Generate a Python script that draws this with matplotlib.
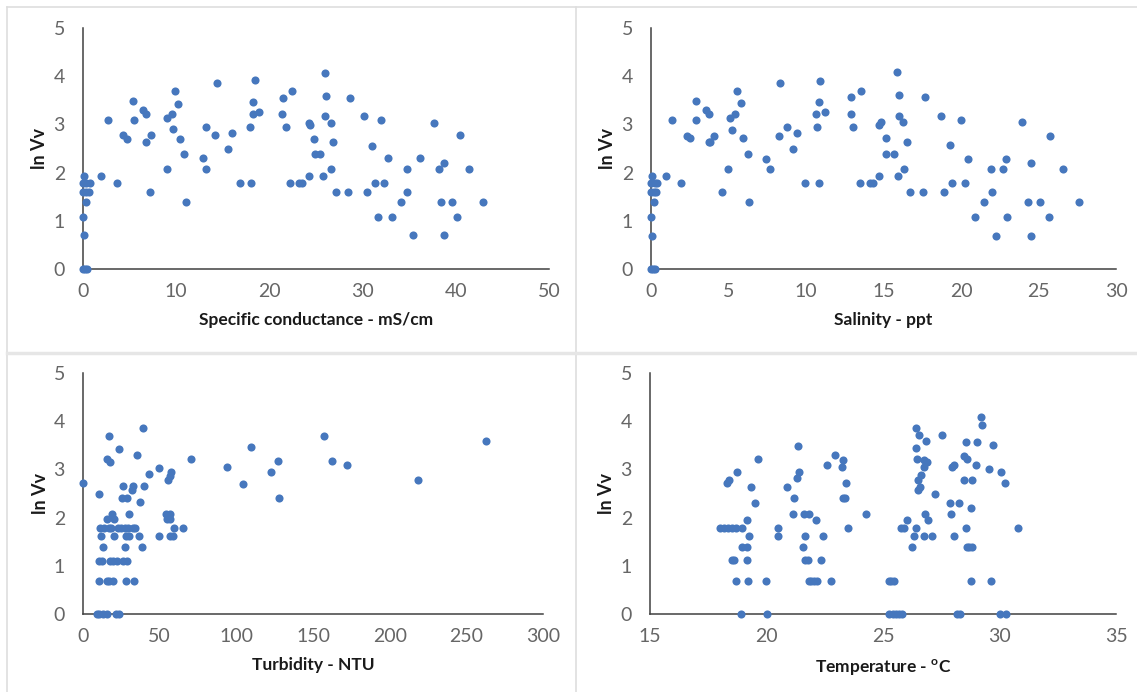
import matplotlib.pyplot as plt
from matplotlib.lines import Line2D

plt.rcParams['font.family'] = ['Lato', 'DejaVu Sans']
plt.rcParams['mathtext.fontset'] = 'custom'
plt.rcParams['mathtext.rm'] = 'Lato'
plt.rcParams['mathtext.bf'] = 'Lato:bold'

# ln of vibrio counts against four water-quality readings
cond = [0, 0.2, 0.45, 0.1, 0.05, 0, 0.3, 0.6, 0.35, 0.15, 0, 0.3, 0.7,
        1.95, 2.73, 3.67, 4.26, 4.77, 5.39, 5.51, 6.41, 6.80, 6.72, 7.23, 7.34,
        8.98, 9.06, 9.57, 9.69, 9.88, 10.2, 10.4, 10.8, 11.0, 12.85, 13.16, 13.24,
        14.14, 14.38, 15.6, 15.98, 16.8, 17.97, 18.05, 18.24, 18.2, 18.44, 18.9,
        21.3, 21.5, 21.76, 22.2, 22.4, 23.2, 23.5, 24.2, 24.3, 24.4, 24.77, 24.84,
        25.47, 25.78, 26.0, 26.1, 26.0, 26.6, 26.8, 26.6, 27.1, 28.4, 28.7, 30.2,
        30.5, 31.0, 31.3, 31.6, 32.0, 32.3, 32.7, 33.2, 34.1, 34.8, 34.8, 35.4,
        36.2, 37.7, 38.2, 38.4, 38.7, 38.7, 39.6, 40.1, 40.5, 41.4, 42.97]
cond_lnvv = [0, 0, 0, 0.71, 1.08, 1.6, 1.6, 1.6, 1.38, 1.93, 1.79, 1.79, 1.79,
             1.93, 3.09, 1.79, 2.78, 2.70, 3.49, 3.09, 3.30, 3.21, 2.63, 1.60, 2.78,
             2.07, 3.13, 3.21, 2.90, 3.69, 3.42, 2.70, 2.38, 1.38, 2.31, 2.94, 2.07,
             2.78, 3.85, 2.48, 2.83, 1.79, 2.94, 1.79, 3.47, 3.21, 3.93, 3.25,
             3.21, 3.55, 2.94, 1.79, 3.69, 1.79, 1.79, 1.93, 3.03, 2.99, 2.70, 2.38,
             2.38, 1.93, 4.07, 3.59, 3.17, 3.03, 2.63, 2.07, 1.60, 1.60, 3.55, 3.17,
             1.60, 2.56, 1.79, 1.08, 3.09, 1.79, 2.31, 1.08, 1.38, 2.07, 1.60, 0.71,
             2.31, 3.03, 2.07, 1.38, 2.19, 0.71, 1.38, 1.08, 2.78, 2.07, 1.38]

sal = [0, 0.14, 0.28, 0.05, 0, 0, 0.19, 0.33, 0.19, 0.09, 0, 0.23, 0.37,
       0.96, 1.33, 1.94, 2.33, 2.54, 2.92, 2.92, 3.52, 3.71, 3.71, 3.80, 4.08,
       4.57, 4.99, 5.09, 5.44, 5.25, 5.55, 5.79, 5.93, 6.23, 6.34, 7.44, 7.68,
       8.23, 8.35, 8.75, 9.17, 9.40, 9.96, 10.64, 10.71, 10.82, 10.87, 10.92, 11.2,
       12.9, 12.9, 13.0, 13.46, 13.55, 14.14, 14.35, 14.70, 14.74, 14.84, 15.16,
       15.16, 15.68, 15.86, 15.93, 15.98, 15.98, 16.28, 16.35, 16.52, 16.68, 17.56,
       17.68, 18.71, 18.92, 19.27, 19.45, 19.99, 20.27, 20.43, 20.92, 21.48, 21.95,
       21.97, 22.28, 22.70, 22.88, 22.95, 23.93, 24.31, 24.49, 24.54, 25.10, 25.66,
       25.75, 26.57, 27.62]
sal_lnvv = [0, 0, 0, 0.69, 1.08, 1.6, 1.6, 1.6, 1.38, 1.93, 1.78, 1.78, 1.78,
            1.93, 3.10, 1.78, 2.76, 2.71, 3.49, 3.10, 3.30, 3.22, 2.64, 2.64, 2.76,
            1.60, 2.07, 3.13, 3.22, 2.88, 3.70, 3.44, 2.71, 2.38, 1.38, 2.29, 2.07,
            2.76, 3.85, 2.94, 2.49, 2.82, 1.78, 3.22, 2.94, 1.78, 3.47, 3.91, 3.26,
            3.56, 3.22, 2.94, 1.78, 3.70, 1.78, 1.78, 1.93, 2.99, 3.04, 2.71,
            2.38, 2.38, 4.08, 1.93, 3.60, 3.18, 3.04, 2.07, 2.64, 1.60, 1.60,
            3.56, 3.18, 1.60, 2.57, 1.78, 3.10, 1.78, 2.29, 1.08, 1.38, 2.07,
            1.60, 0.69, 2.07, 2.29, 1.08, 3.04, 1.38, 2.19, 0.69, 1.38, 1.08,
            2.76, 2.07, 1.38]

turb = [0, 10.7, 17.0, 39.0, 23.3, 35.1, 15.9, 17.7, 70.5, 49.4, 42.9, 57.7, 56.8,
        55.5, 25.9, 32.9, 32.0, 39.8, 25.5, 29.0, 37.0, 19.0, 30.1, 15.5, 20.5,
        54.2, 56.8, 55.0, 56.8, 59.2, 65.5,
        11.2, 13.8, 17.2, 18.5, 22.9, 25.1, 27.2, 29.4, 32.5, 34.2,
        12.0, 20.3, 28.1, 30.1, 36.4, 49.4, 57.0, 59.0,
        12.9, 27.7, 38.3,
        10.3, 12.5, 17.7, 19.8, 22.0, 25.9, 28.5,
        10.3, 15.5, 17.2, 19.8, 28.1, 33.5,
        9.0, 10.7, 12.9, 15.9, 21.2, 23.8,
        94.1, 104.6, 109.3, 122.4, 126.9, 128.1, 157.2, 162.2, 172.2, 218.2, 262.5]
turb_lnvv = [2.71, 2.49, 3.70, 3.85, 3.43, 3.30, 3.22, 3.15, 3.22, 3.03, 2.91, 2.95, 2.87,
             2.79, 2.65, 2.65, 2.58, 2.65, 2.41, 2.41, 2.32, 2.08, 2.08, 1.97, 1.97,
             2.08, 2.08, 1.97, 1.97, 1.79, 1.79,
             1.79, 1.79, 1.79, 1.79, 1.79, 1.79, 1.79, 1.79, 1.79, 1.79,
             1.61, 1.61, 1.61, 1.61, 1.61, 1.61, 1.61, 1.61,
             1.39, 1.39, 1.39,
             1.10, 1.10, 1.10, 1.10, 1.10, 1.10, 1.10,
             0.69, 0.69, 0.69, 0.69, 0.69, 0.69,
             0, 0, 0, 0, 0, 0,
             3.04, 2.70, 3.47, 2.94, 3.18, 2.41, 3.69, 3.18, 3.10, 2.78, 3.59]

temp = [19.65, 18.75, 18.39, 18.30, 19.35, 19.52, 19.16,
        18.02, 18.19, 18.36, 18.53, 18.70, 18.93, 19.25, 18.93, 19.16,
        18.51, 18.59, 19.16, 18.71, 19.19, 19.96, 18.90, 20.0,
        20.49, 20.49, 21.36, 21.39, 21.29, 20.86, 21.19, 21.12, 21.61, 21.81, 22.13,
        21.64, 21.58, 21.67, 21.78, 22.33, 22.44, 21.81, 21.93, 22.04, 22.18, 22.77,
        22.93, 22.6, 23.27, 23.24, 23.41, 23.27, 23.36, 23.50, 24.25,
        25.24, 25.35, 25.46, 25.24, 25.41, 25.55, 25.67, 25.81,
        25.78, 25.89, 26.03, 26.23, 26.32, 26.43, 26.43, 26.55, 26.83, 26.43, 26.46,
        26.74, 26.89, 26.77, 26.63, 26.52, 26.58, 26.49, 27.23, 26.80, 26.95, 26.75,
        27.12, 27.52, 27.89, 28.26, 27.92, 28.03, 27.95, 28.06, 28.57, 29.03, 28.48,
        28.60, 29.0, 28.48, 28.80, 28.77, 28.57, 28.60, 28.71, 28.83, 28.77, 28.17,
        28.29, 29.19, 29.23, 29.71, 29.57, 30.08, 30.25, 29.63, 30.01, 30.28, 30.80]
temp_lnvv = [3.22, 2.95, 2.77, 2.72, 2.63, 2.30, 1.96,
             1.79, 1.79, 1.79, 1.79, 1.79, 1.79, 1.61, 1.40, 1.40,
             1.11, 1.11, 1.11, 0.69, 0.69, 0.69, 0, 0,
             1.79, 1.61, 3.48, 2.95, 2.83, 2.63, 2.40, 2.08, 2.08, 2.08, 1.96,
             1.61, 1.40, 1.11, 1.11, 1.11, 1.61, 0.69, 0.69, 0.69, 0.69, 0.69,
             3.30, 3.09, 3.20, 3.05, 2.72, 2.40, 2.40, 1.79, 2.08,
             0.69, 0.69, 0.69, 0, 0, 0, 0, 0,
             1.79, 1.79, 1.96, 1.40, 1.61, 1.79, 3.86, 3.71, 3.59, 3.44, 3.22,
             3.19, 3.15, 3.05, 2.89, 2.77, 2.63, 2.58, 2.49, 2.08, 1.96, 1.61,
             1.61, 3.71, 2.30, 2.30, 2.08, 1.61, 3.05, 3.09, 3.57, 3.57, 3.27,
             3.22, 3.09, 2.77, 2.77, 2.20, 1.79, 1.40, 1.40, 1.40, 0.69, 0,
             0, 4.09, 3.92, 3.50, 3.01, 2.95, 2.72, 0.69, 0, 0, 1.79]

DOT = '#4677bd'
W, H = 1137, 692


def scatter_panel(fig, left, right, top, bottom, x, y, xlim, xticks, xlabel):
    """Draw one Excel-style scatter in a box given in pixels."""
    ax = fig.add_axes([left / W, 1 - bottom / H, (right - left) / W, (bottom - top) / H])
    ax.patch.set_alpha(0)
    ax.scatter(x, y, s=34, color=DOT, linewidths=0, clip_on=False, zorder=3)
    ax.set_xlim(*xlim)
    ax.set_ylim(0, 5)
    ax.set_xticks(xticks)
    ax.set_yticks(range(6))
    ax.tick_params(length=0, labelsize=14, labelcolor='#666666', pad=10)
    ax.tick_params(axis='y', pad=13)
    for s in ['top', 'right']:
        ax.spines[s].set_visible(False)
    for s in ['left', 'bottom']:
        ax.spines[s].set_color('#404040')
        ax.spines[s].set_linewidth(1.1)
    ax.set_xlabel(xlabel, fontsize=12.5, fontweight='bold', color='#1a1a1a')
    ax.set_ylabel('ln Vv', fontsize=13, fontweight='bold', color='#1a1a1a')
    ax.xaxis.set_label_coords(0.5, -0.18)
    ax.yaxis.set_label_coords(-0.075, 0.5)
    return ax


fig = plt.figure(figsize=(W / 100, H / 100), dpi=100)

scatter_panel(fig, 83, 549, 28, 269, cond, cond_lnvv, (0, 50), range(0, 51, 10),
              'Specific conductance - mS/cm')
scatter_panel(fig, 651, 1116, 28, 269, sal, sal_lnvv, (0, 30), range(0, 31, 5),
              'Salinity - ppt')
scatter_panel(fig, 83, 543, 373, 614, turb, turb_lnvv, (0, 300), range(0, 301, 50),
              'Turbidity - NTU')
scatter_panel(fig, 650, 1116, 373, 614, temp, temp_lnvv, (15, 35), range(15, 36, 5),
              'Temperature - $^{\\mathbf{o}}$C')

# light grey cell borders around the four panels
grey = '#dedede'
fig.add_artist(Line2D([7 / W, 1], [1 - 7 / H] * 2, color=grey, lw=1.2))
fig.add_artist(Line2D([7 / W] * 2, [0, 1 - 7 / H], color=grey, lw=1.2))
fig.add_artist(Line2D([575.5 / W] * 2, [0, 1 - 7 / H], color=grey, lw=1.2))
fig.add_artist(Line2D([7 / W, 1], [1 - 353 / H] * 2, color='#e6e6e6', lw=2.5))

fig.savefig('out.png', dpi=100)
